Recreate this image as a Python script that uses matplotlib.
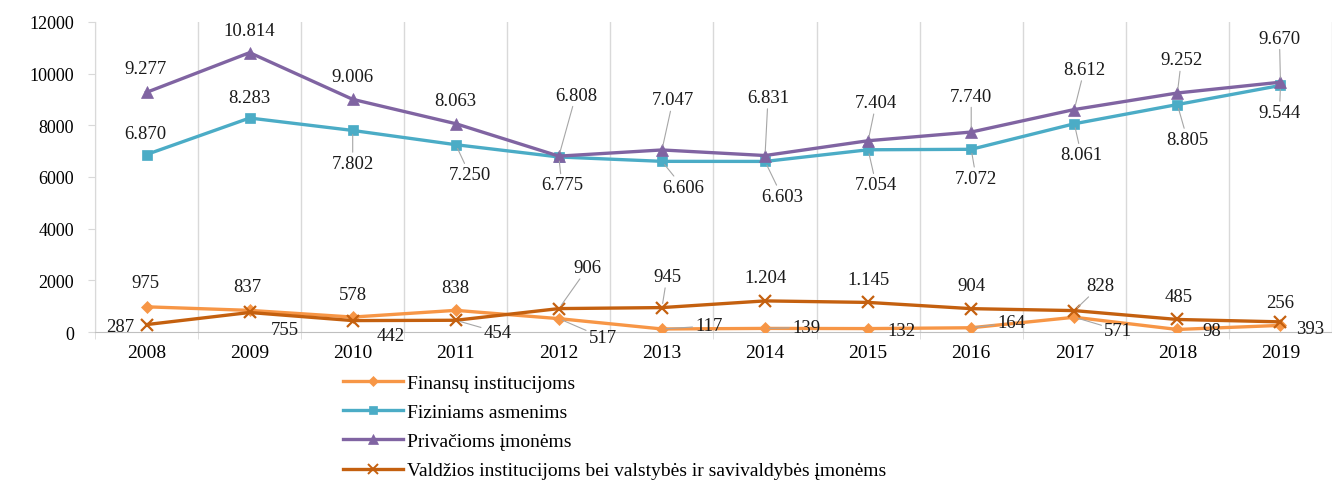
import numpy as np
import matplotlib
matplotlib.use("Agg")
import matplotlib.pyplot as plt
from matplotlib.lines import Line2D

plt.rcParams['font.family'] = ['Liberation Serif', 'DejaVu Serif']

# data
years = [str(y) for y in range(2008, 2020)]
finansu = [975, 837, 578, 838, 517, 117, 139, 132, 164, 571, 98, 256]
fiziniams = [6870, 8283, 7802, 7250, 6775, 6606, 6603, 7054, 7072, 8061, 8805, 9544]
privacioms = [9277, 10814, 9006, 8063, 6808, 7047, 6831, 7404, 7740, 8612, 9252, 9670]
valdzios = [287, 755, 442, 454, 906, 945, 1204, 1145, 904, 828, 485, 393]
names = ["Finansų institucijoms", "Fiziniams asmenims", "Privačioms įmonėms",
         "Valdžios institucijoms bei valstybės ir savivaldybės įmonėms"]

# label offsets in pixels (dx, dy) and leader line flags
fin_off = [(-1, 24), (-2, 24), (0, 23), (0, 23), (44, -19), (47, 3), (41, 1), (33, -2), (40, 5), (44, -13), (34, -1), (0, 23)]
fiz_off = [(-1, 21), (0, 21), (0, -33), (14, -30), (3, -28), (21, -26), (17, -35), (8, -35), (5, -29), (7, -31), (10, -35), (-1, -27)]
pri_off = [(-1, 24), (0, 22), (0, 23), (0, 23), (17, 61), (11, 50), (3, 58), (8, 38), (0, 36), (10, 40), (4, 33), (-1, 44)]
val_off = [(-26, -2), (35, -17), (38, -15), (42, -12), (29, 41), (5, 31), (0, 23), (0, 23), (0, 23), (26, 25), (1, 23), (30, -7)]
fin_lead = [0, 0, 0, 0, 1, 1, 1, 0, 1, 1, 0, 0]
fiz_lead = [0, 0, 1, 1, 1, 1, 1, 1, 1, 1, 1, 1]
pri_lead = [0, 0, 0, 0, 1, 1, 1, 1, 1, 1, 1, 1]
val_lead = [0, 0, 0, 1, 1, 1, 0, 0, 0, 1, 0, 0]

colors = ["#F79646", "#4BACC6", "#8064A2", "#C4600F"]
markers = ["D", "s", "^", "x"]
msizes = [6, 7.5, 8.5, 9]

W, H = 1332, 485
fig = plt.figure(figsize=(W / 100, H / 100), dpi=100)
ax = fig.add_axes([95 / W, 152 / H, (W - 95) / W, 310 / H])

x = np.arange(len(years))
series = [finansu, fiziniams, privacioms, valdzios]
offsets = [fin_off, fiz_off, pri_off, val_off]
leads = [fin_lead, fiz_lead, pri_lead, val_lead]

for i in [0, 3, 1, 2]:
    ax.plot(x, series[i], color=colors[i], lw=2.4, marker=markers[i],
            ms=msizes[i], mew=1.6 if markers[i] == "x" else 0.5,
            mec=colors[i], zorder=3)

for vals, offs, ld in zip(series, offsets, leads):
    for xi, v, (dx, dy), l in zip(x, vals, offs, ld):
        txt = f"{v:,}".replace(",", ".")
        kw = {}
        if l:
            kw["arrowprops"] = dict(arrowstyle="-", color="#A6A6A6", lw=0.8,
                                    shrinkA=0, shrinkB=3)
        ax.annotate(txt, (xi, v), xytext=(dx, dy), textcoords="offset pixels",
                    ha="center", va="center", fontsize=13.5, color="#1a1a1a",
                    zorder=4, **kw)

ax.set_xlim(-0.5, -0.5 + (W - 95) / 103.5)
ax.set_ylim(0, 12000)
ax.set_yticks(np.arange(0, 12001, 2000))
ax.set_xticks(x)
ax.set_xticklabels(years)
ax.set_xticks(np.arange(-0.5, 12, 1), minor=True)
ax.tick_params(axis="x", which="major", length=0, pad=9, labelsize=14)
ax.tick_params(axis="x", which="minor", length=5, color="#D9D9D9")
ax.tick_params(axis="y", length=5, color="#D9D9D9", pad=10, labelsize=13)
ax.grid(True, axis="x", which="minor", color="#D9D9D9", lw=1)
for s in ["top", "right"]:
    ax.spines[s].set_visible(False)
ax.spines["left"].set_color("#D9D9D9")
ax.spines["bottom"].set_color("#BFBFBF")

handles = [Line2D([], [], color=colors[i], lw=2.4, marker=markers[i],
                  ms=msizes[i] * 0.8, mew=1.4 if markers[i] == "x" else 0.5,
                  mec=colors[i]) for i in range(4)]
fig.legend(handles, names, loc="upper left", bbox_to_anchor=(343 / W, 1 - 375 / H),
           frameon=False, fontsize=14, handlelength=3.1, handletextpad=0.2,
           labelspacing=0.6, borderaxespad=0, borderpad=0)

fig.savefig("out.png", dpi=100)
